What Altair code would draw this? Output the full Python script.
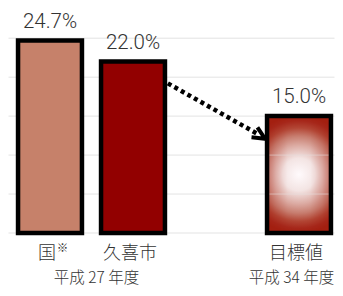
import altair as alt
import pandas as pd

# ---- data ----
categories = ["国", "久喜市", "目標値"]
positions = [0, 1, 3]
values = [24.7, 22.0, 15.0]
value_labels = ["24.7%", "22.0%", "15.0%"]
bar_colors = ["#c6816a", "#920000", "#a31f10"]
year_labels = ["平成 27 年度", "平成 34 年度"]
year_positions = [0.56, 3.0]
grid_values = [0, 5, 10, 15, 20, 25]
arrow_start_x = [1.42]
arrow_end_x = [2.52]
arrow_start_y = [19.2]
arrow_end_y = [12.6]
arrow_tip_x = [2.59]
arrow_tip_y = [12.1]

FONT = "Noto Sans CJK JP"
NUMFONT = "Roboto"
TXT = "#333333"

df = pd.DataFrame({"cat": categories, "pos": positions, "value": values,
                   "label": value_labels, "color": bar_colors})
df["left"] = df["pos"] - 0.385
df["right"] = df["pos"] + 0.385
df["base"] = 0.0

W = 326
H = 194.8
x_scale = alt.Scale(domain=[-0.5, -0.5 + W / 83.0], nice=False, zero=False)
y_scale = alt.Scale(domain=[0, 25], nice=False, zero=False)

X = lambda f: alt.X(f, type="quantitative", scale=x_scale, axis=None)
Y = lambda f: alt.Y(f, type="quantitative", scale=y_scale, axis=None)

grid = alt.Chart(pd.DataFrame({"g": grid_values})).mark_rule(
    color="#e3e3e3", strokeWidth=1
).encode(y=Y("g"))

base = alt.Chart(df)

solid = base.transform_filter("datum.cat != '目標値'").mark_rect(
    stroke="black", strokeWidth=4.5
).encode(x=X("left"), x2="right", y=Y("value"), y2="base",
         fill=alt.Fill("color:N", scale=None))

target = base.transform_filter("datum.cat == '目標値'")

rgrad = target.mark_rect(
    fill=alt.Gradient(
        gradient="radial", x1=0.5, y1=0.5, x2=0.5, y2=0.5, r1=0, r2=0.5,
        stops=[alt.GradientStop(offset=0, color="#fffafc"),
               alt.GradientStop(offset=0.28, color="#f3e4e3"),
               alt.GradientStop(offset=0.5, color="#dcaba3"),
               alt.GradientStop(offset=0.66, color="#c77d6f"),
               alt.GradientStop(offset=0.8, color="#b24534"),
               alt.GradientStop(offset=0.92, color="#a6271a"),
               alt.GradientStop(offset=1, color="#a31f10")]),
    strokeWidth=0
).encode(x=X("left"), x2="right", y=Y("value"), y2="base")

hgrad = target.mark_rect(
    fill=alt.Gradient(
        gradient="linear", x1=0, y1=0, x2=1, y2=0,
        stops=[alt.GradientStop(offset=0, color="rgba(163,31,16,0.35)"),
               alt.GradientStop(offset=0.14, color="rgba(163,31,16,0.14)"),
               alt.GradientStop(offset=0.32, color="rgba(163,31,16,0)"),
               alt.GradientStop(offset=0.68, color="rgba(163,31,16,0)"),
               alt.GradientStop(offset=0.86, color="rgba(163,31,16,0.14)"),
               alt.GradientStop(offset=1, color="rgba(163,31,16,0.35)")]),
    strokeWidth=0
).encode(x=X("left"), x2="right", y=Y("value"), y2="base")

# gridlines faintly visible through the target bar
inner_df = pd.DataFrame({"g": [5, 10], "l": [3 - 0.36] * 2, "r": [3 + 0.36] * 2})
inner_grid = alt.Chart(inner_df).mark_rule(
    color="#e8e0e0", strokeWidth=1, opacity=0.55
).encode(y=Y("g"), x=X("l"), x2="r")

outline = target.mark_rect(
    fillOpacity=0, stroke="black", strokeWidth=4.5
).encode(x=X("left"), x2="right", y=Y("value"), y2="base")

arrow_df = pd.DataFrame({"x1": arrow_start_x, "x2": arrow_end_x,
                         "y1": arrow_start_y, "y2": arrow_end_y,
                         "tx": arrow_tip_x, "ty": arrow_tip_y})
arrow_line = alt.Chart(arrow_df).mark_rule(
    color="black", strokeWidth=4.5, strokeDash=[4, 3.5], strokeCap="butt"
).encode(x=X("x1"), x2="x2", y=Y("y1"), y2="y2")

arrow_head = alt.Chart(arrow_df).mark_point(
    shape="M-1,-0.47L0,0L-1,0.47", filled=False, color="black",
    strokeWidth=4, size=600, angle=31, opacity=1, strokeJoin="miter"
).encode(x=X("tx"), y=Y("ty"))

value_text = base.mark_text(
    font=NUMFONT, fontSize=20.5, fontWeight=300, color=TXT,
    baseline="alphabetic", dy=-13
).encode(x=X("pos"), y=Y("value"), text="label:N")

cat_text = base.mark_text(
    font=FONT, fontSize=18, fontWeight=300, color=TXT,
    baseline="alphabetic", dx=-3
).encode(x=X("pos"), y=alt.value(220.3), text="cat:N")

note_df = pd.DataFrame({"pos": [positions[0]], "mark": ["※"]})
note_text = alt.Chart(note_df).mark_text(
    font=FONT, fontSize=11.5, fontWeight=300, color=TXT,
    baseline="alphabetic", dx=12.5
).encode(x=X("pos"), y=alt.value(213.5), text="mark:N")

year_df = pd.DataFrame({"pos": year_positions, "label": year_labels})
year_a = alt.Chart(year_df.iloc[[0]]).mark_text(
    font=FONT, fontSize=15.5, fontWeight=300, color=TXT, baseline="alphabetic"
).encode(x=X("pos"), y=alt.value(244.8), text="label:N")
year_b = alt.Chart(year_df.iloc[[1]]).mark_text(
    font=FONT, fontSize=15.5, fontWeight=300, color=TXT, baseline="alphabetic",
    dx=-7.5
).encode(x=X("pos"), y=alt.value(244.8), text="label:N")

chart = alt.layer(
    grid, solid, rgrad, hgrad, inner_grid, outline, arrow_line, arrow_head,
    value_text, cat_text, note_text, year_a, year_b
).properties(
    width=W, height=H,
    autosize=alt.AutoSizeParams(type="none"),
    padding={"left": 0.5, "top": 30.2, "right": 0.5, "bottom": 55},
    background="white"
).configure_view(stroke=None)

chart.save("out.html", embed_options={"renderer": "svg", "actions": False})
